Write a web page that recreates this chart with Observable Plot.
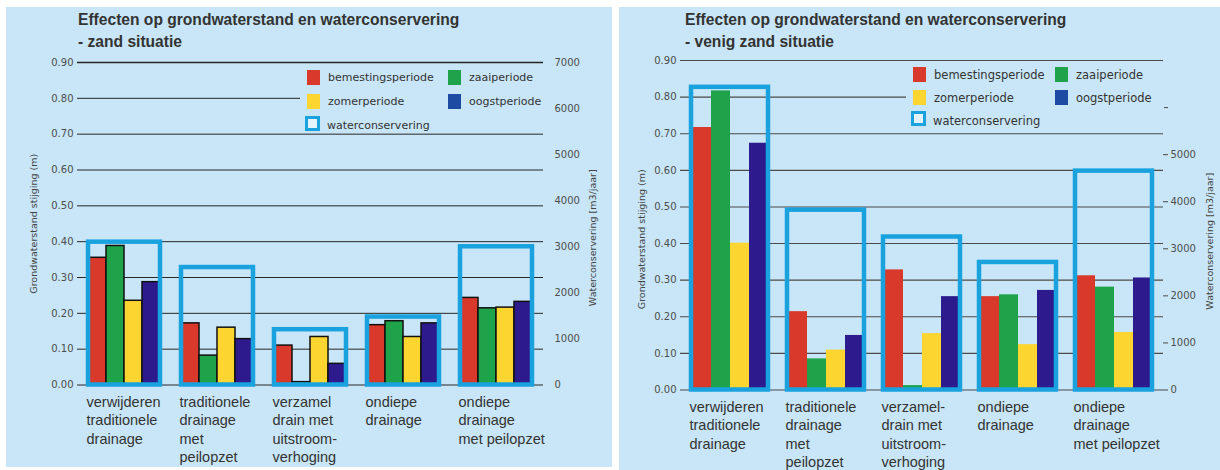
<!DOCTYPE html>
<html><head><meta charset="utf-8">
<script src="https://cdn.jsdelivr.net/npm/d3@7"></script>
<script src="https://cdn.jsdelivr.net/npm/@observablehq/plot@0.6"></script>
<style>
body{margin:0;width:1220px;height:470px;position:relative;background:#fff;overflow:hidden;font-family:"Liberation Sans",Arial,sans-serif}
.panel{position:absolute;background:#c8e6f7;overflow:hidden}
.title{position:absolute;font-family:"Liberation Sans",Arial,sans-serif;font-weight:bold;font-size:15.6px;line-height:22px;color:#333;white-space:nowrap}
.chart{position:absolute;left:0}
.legend{position:absolute;background:#c8e6f7}
.sw{position:absolute;width:13px;height:15px}
.wsw{position:absolute;width:9px;height:9px;border:3.5px solid #1aa2df;background:#e3f3fb}
.lt{position:absolute;font-family:"DejaVu Sans",sans-serif;color:#333;line-height:12px;white-space:nowrap}
</style></head>
<body>
<div id="p1" class="panel" style="left:6px;top:7px;width:606px;height:460px"></div>
<div id="p2" class="panel" style="left:619px;top:7px;width:601px;height:463px"></div>
<script>
// ---------- data ----------
const categories = ["verwijderen", "traditionele", "verzamel", "ondiepe", "ondiepe peilopzet"];
const labelsZand = ["verwijderen\ntraditionele\ndrainage", "traditionele\ndrainage\nmet\npeilopzet", "verzamel\ndrain met\nuitstroom-\nverhoging", "ondiepe\ndrainage", "ondiepe\ndrainage\nmet peilopzet"];
const labelsVenig = ["verwijderen\ntraditionele\ndrainage", "traditionele\ndrainage\nmet\npeilopzet", "verzamel-\ndrain met\nuitstroom-\nverhoging", "ondiepe\ndrainage", "ondiepe\ndrainage\nmet peilopzet"];
const periods = ["bemestingsperiode", "zaaiperiode", "zomerperiode", "oogstperiode"];

// zand situatie (m)
const zandBemesting = [0.355, 0.172, 0.110, 0.167, 0.243];
const zandZaai      = [0.388, 0.082, 0.008, 0.178, 0.214];
const zandZomer     = [0.235, 0.160, 0.134, 0.134, 0.216];
const zandOogst     = [0.287, 0.128, 0.059, 0.172, 0.232];
const zandWater     = [3100, 2550, 1200, 1475, 3000]; // m3/jaar

// venig zand situatie (m)
const venigBemesting = [0.717, 0.214, 0.328, 0.255, 0.312];
const venigZaai      = [0.817, 0.085, 0.012, 0.260, 0.281];
const venigZomer     = [0.401, 0.109, 0.154, 0.124, 0.157];
const venigOogst     = [0.674, 0.149, 0.255, 0.272, 0.306];
const venigWater     = [6430, 3820, 3250, 2710, 4650]; // m3/jaar

const yTicks = [0, 0.1, 0.2, 0.3, 0.4, 0.5, 0.6, 0.7, 0.8, 0.9];
const m3TicksZand = [0, 1000, 2000, 3000, 4000, 5000, 6000, 7000];
const m3TicksVenig = [0, 1000, 2000, 3000, 4000, 5000, 6000];
const m3LabelsVenig = ["0", "1000", "2000", "3000", "4000", "5000", ""];

const barColors = ["#d8392b", "#1fa34a", "#fcd531", "#2d1b8e"];
const boxColor = "#1aa2df";

const M3_PER_AXIS = 7000 / 0.9; // right axis 7000 aligns with 0.90 m
const toM = v => v / M3_PER_AXIS;

function bars(b, z, s, o) {
  const out = [];
  categories.forEach((c, i) => {
    [b, z, s, o].forEach((arr, j) => out.push({cat: c, period: periods[j], value: arr[i]}));
  });
  return out;
}

const font = "DejaVu Sans, sans-serif";

// background layer: grid + both y axes (no facets)
function axesLayer(cfg) {
  const marks = [
    Plot.ruleY(yTicks.filter(d => d !== 0.9), {stroke: cfg.grid, strokeWidth: cfg.gridW}),
    Plot.ruleY([0.9], {stroke: cfg.grid, strokeWidth: cfg.topW}),
    Plot.text(yTicks, {y: d => d, text: d => d.toFixed(2), frameAnchor: "left", textAnchor: "end", dx: -4, fontSize: 10, fill: "#4d4d4d", fontFamily: font}),
    Plot.text(cfg.m3Ticks, {y: toM, text: (d, i) => cfg.m3Labels[i], frameAnchor: "right", textAnchor: "start", dx: cfg.rdx, fontSize: 10, fill: "#4d4d4d", fontFamily: font}),
    Plot.text(["Grondwaterstand stijging (m)"], {frameAnchor: "left", textAnchor: "middle", rotate: -90, dx: cfg.ltdx, dy: cfg.ltdy, fontSize: 9.5, fill: "#444", fontFamily: font}),
    Plot.text(["Waterconservering [m3/jaar]"], {frameAnchor: "right", textAnchor: "middle", rotate: -90, dx: cfg.rtdx, dy: cfg.rtdy, fontSize: 9.5, fill: "#444", fontFamily: font})
  ];
  if (cfg.outerTicks) {
    marks.push(Plot.ruleY(cfg.m3Ticks, {y: toM, stroke: cfg.grid, strokeWidth: 1, insetLeft: cfg.width - cfg.ml - cfg.mr, insetRight: -5}));
  }
  return Plot.plot({
    width: cfg.width, height: cfg.height,
    marginLeft: cfg.ml, marginRight: cfg.mr, marginTop: cfg.mt, marginBottom: cfg.mb,
    style: {background: "transparent", overflow: "visible"},
    x: {domain: [0, 1], axis: null},
    y: {domain: [0, 0.9], axis: null},
    marks
  });
}

// foreground layer: grouped bars, water-conservation boxes, category labels (faceted)
function barsLayer(cfg) {
  return Plot.plot({
    width: cfg.width, height: cfg.height,
    marginLeft: cfg.ml, marginRight: cfg.mr, marginTop: cfg.mt, marginBottom: cfg.mb,
    style: {background: "transparent", overflow: "visible"},
    fx: {domain: categories, paddingInner: cfg.pi, paddingOuter: cfg.po, axis: null, label: null},
    x: {domain: periods, padding: 0, axis: null},
    y: {domain: [0, 0.9], axis: null},
    color: {domain: periods, range: barColors},
    marks: [
      Plot.barY(cfg.bars, {fx: "cat", x: "period", y: "value", fill: "period", stroke: cfg.barStroke, strokeWidth: 1.5}),
      Plot.barY(cfg.water, {fx: "cat", y1: 0, y2: d => toM(d.m3), fill: "none", stroke: boxColor, strokeWidth: 4.5}),
      Plot.text(cfg.catLabels, {fx: "cat", text: "label", frameAnchor: "bottom-left", textAnchor: "start", lineAnchor: "top", dx: -2, dy: 9, fontSize: 14.5, lineHeight: 1.27, fill: "#333", fontFamily: "Liberation Sans, Arial, sans-serif"})
    ]
  });
}

function legend(el, L) {
  const lg = document.createElement("div");
  lg.className = "legend";
  Object.assign(lg.style, {left: L.x + "px", top: L.y + "px", width: L.w + "px", height: L.h + "px"});
  const items = [
    [barColors[0], 7, 4, periods[0]], [barColors[1], L.col2, 4, periods[1]],
    [barColors[2], 7, 4 + L.row, periods[2]], ["#1d4aa3", L.col2, 4 + L.row, periods[3]]
  ];
  for (const [c, x, y, t] of items) {
    const s = document.createElement("div"); s.className = "sw";
    Object.assign(s.style, {left: x + "px", top: y + "px", background: c});
    lg.appendChild(s);
    const tx = document.createElement("div"); tx.className = "lt"; tx.textContent = t;
    Object.assign(tx.style, {left: (x + 21) + "px", top: (y + 2) + "px", fontSize: L.fs + "px"});
    lg.appendChild(tx);
  }
  const w = document.createElement("div"); w.className = "wsw";
  Object.assign(w.style, {left: "5px", top: (4 + 2 * L.row - 2) + "px"});
  lg.appendChild(w);
  const wt = document.createElement("div"); wt.className = "lt"; wt.textContent = "waterconservering";
  Object.assign(wt.style, {left: (5 + L.wtx) + "px", top: (4 + 2 * L.row + 2) + "px", fontSize: L.fs + "px"});
  lg.appendChild(wt);
  el.appendChild(lg);
}

function build(id, cfg, titleX, subtitle, L) {
  const el = document.getElementById(id);
  const t = document.createElement("div");
  t.className = "title";
  t.style.left = titleX + "px"; t.style.top = "2px";
  t.innerHTML = "Effecten op grondwaterstand en waterconservering<br>" + subtitle;
  el.appendChild(t);
  for (const layer of [axesLayer(cfg), barsLayer(cfg)]) {
    const w = document.createElement("div");
    w.className = "chart"; w.style.top = "45px";
    w.appendChild(layer);
    el.appendChild(w);
  }
  legend(el, L);
}

build("p1", {
  width: 606, height: 415, ml: 71, mr: 69, mt: 10, mb: 82.5, pi: 0.23, po: 0.12,
  bars: bars(zandBemesting, zandZaai, zandZomer, zandOogst),
  water: categories.map((c, i) => ({cat: c, m3: zandWater[i]})),
  catLabels: categories.map((c, i) => ({cat: c, label: labelsZand[i]})),
  m3Ticks: m3TicksZand, m3Labels: m3TicksZand.map(String),
  grid: "#262626", gridW: 1, topW: 1.6, barStroke: "#111",
  outerTicks: false, rdx: 11,
  ltdx: -44, ltdy: 0, rtdx: 49, rtdy: 14
}, 72, "- zand situatie", {x: 294, y: 59, w: 244, h: 65, col2: 148, row: 24, wtx: 22, fs: 11});

build("p2", {
  width: 601, height: 418, ml: 61, mr: 57, mt: 8, mb: 80.5, pi: 0.2, po: 0.1,
  bars: bars(venigBemesting, venigZaai, venigZomer, venigOogst),
  water: categories.map((c, i) => ({cat: c, m3: venigWater[i]})),
  catLabels: categories.map((c, i) => ({cat: c, label: labelsVenig[i]})),
  m3Ticks: m3TicksVenig, m3Labels: m3LabelsVenig,
  grid: "#4a4a4a", gridW: 1.1, topW: 1.1, barStroke: "none",
  outerTicks: true, rdx: 7,
  ltdx: -39, ltdy: 14, rtdx: 46, rtdy: 16
}, 66, "- venig zand situatie", {x: 287, y: 56, w: 258, h: 64, col2: 149, row: 23, wtx: 22, fs: 11.5});
</script>
</body></html>
